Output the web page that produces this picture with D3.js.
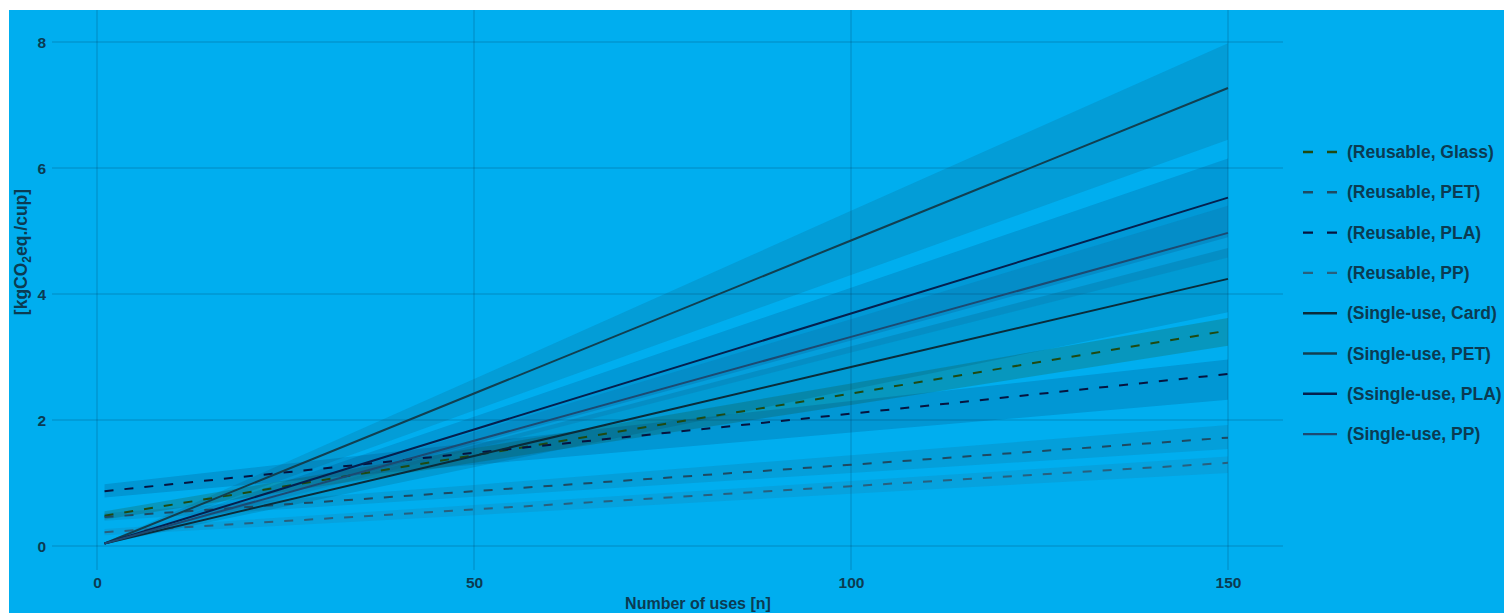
<!DOCTYPE html>
<html>
<head>
<meta charset="utf-8">
<script src="https://cdn.jsdelivr.net/npm/d3@7"></script>
<style>
  html, body { margin: 0; padding: 0; background: #ffffff; }
  svg { display: block; }
  text { font-family: "Liberation Sans", Arial, Helvetica, sans-serif; fill: #0b3b52; }
</style>
</head>
<body>
<svg id="chart" width="1504" height="613"></svg>
<script>
// ---- data ----
const uses = [1, 50, 100, 150];
const seriesNames = [
  "(Reusable, Glass)", "(Reusable, PET)", "(Reusable, PLA)", "(Reusable, PP)",
  "(Single-use, Card)", "(Single-use, PET)", "(Ssingle-use, PLA)", "(Single-use, PP)"
];
const reusableGlass = [0.48, 1.44, 2.42, 3.42];
const reusablePET   = [0.46, 0.87, 1.29, 1.72];
const reusablePLA   = [0.87, 1.48, 2.10, 2.73];
const reusablePP    = [0.22, 0.58, 0.95, 1.32];
const singleCard    = [0.04, 1.43, 2.84, 4.24];
const singlePET     = [0.04, 2.42, 4.85, 7.27];
const singlePLA     = [0.04, 1.85, 3.69, 5.53];
const singlePP      = [0.04, 1.67, 3.32, 4.97];
// confidence bands: lower and upper at each n in `uses`
const reusableGlassLo = [0.42, 1.32, 2.24, 3.18];
const reusableGlassHi = [0.55, 1.55, 2.58, 3.62];
const reusablePETLo   = [0.40, 0.78, 1.16, 1.54];
const reusablePETHi   = [0.52, 0.97, 1.44, 1.92];
const reusablePLALo   = [0.77, 1.29, 1.80, 2.32];
const reusablePLAHi   = [0.98, 1.64, 2.30, 2.96];
const reusablePPLo    = [0.17, 0.49, 0.83, 1.16];
const reusablePPHi    = [0.27, 0.65, 1.03, 1.42];
const singleCardLo    = [0.03, 1.25, 2.48, 3.71];
const singleCardHi    = [0.05, 1.60, 3.17, 4.73];
const singlePETLo     = [0.03, 2.15, 4.30, 6.45];
const singlePETHi     = [0.05, 2.65, 5.32, 7.98];
const singlePLALo     = [0.03, 1.62, 3.26, 4.90];
const singlePLAHi     = [0.05, 2.05, 4.10, 6.15];
const singlePPLo      = [0.03, 1.54, 3.07, 4.58];
const singlePPHi      = [0.05, 1.81, 3.60, 5.40];
const xTicks = [0, 50, 100, 150];
const yTicks = [0, 2, 4, 6, 8];

const seriesValues = [reusableGlass, reusablePET, reusablePLA, reusablePP, singleCard, singlePET, singlePLA, singlePP];
const seriesLo = [reusableGlassLo, reusablePETLo, reusablePLALo, reusablePPLo, singleCardLo, singlePETLo, singlePLALo, singlePPLo];
const seriesHi = [reusableGlassHi, reusablePETHi, reusablePLAHi, reusablePPHi, singleCardHi, singlePETHi, singlePLAHi, singlePPHi];
const colors = ["#1f4a12", "#1e4a62", "#06143f", "#28607e", "#0a2c3a", "#123f50", "#05204e", "#1c4a72"];
const dashed = [true, true, true, true, false, false, false, false];

// ---- drawing ----
const svg = d3.select("#chart");
svg.append("rect").attr("x", 9).attr("y", 10).attr("width", 1504 - 9).attr("height", 613 - 10).attr("fill", "#00aeef");

const x = d3.scaleLinear().domain([0, 150]).range([97, 1228]);
const y = d3.scaleLinear().domain([0, 8]).range([546, 42]);
const panel = { left: 52, right: 1283, top: 10, bottom: 570 };

// gridlines
const grid = svg.append("g");
grid.selectAll("line.h").data(yTicks).join("line")
  .attr("x1", panel.left).attr("x2", panel.right)
  .attr("y1", d => y(d)).attr("y2", d => y(d))
  .attr("stroke", "rgba(0,45,75,0.28)").attr("stroke-width", 1);
grid.selectAll("line.v").data(xTicks).join("line")
  .attr("y1", panel.top).attr("y2", panel.bottom)
  .attr("x1", d => x(d)).attr("x2", d => x(d))
  .attr("stroke", "rgba(0,45,75,0.28)").attr("stroke-width", 1);

// axes (labels only)
const yAxis = svg.append("g").attr("transform", `translate(${panel.left - 2},0)`)
  .call(d3.axisLeft(y).tickValues(yTicks).tickSize(0).tickPadding(4));
yAxis.select(".domain").remove();
yAxis.selectAll("text").attr("font-size", 15.5).style("fill", "#0b3b52").attr("font-weight", "bold").attr("dy", "0.35em");

const xAxis = svg.append("g").attr("transform", `translate(0,${575})`)
  .call(d3.axisBottom(x).tickValues(xTicks).tickSize(0).tickPadding(2));
xAxis.select(".domain").remove();
xAxis.selectAll("text").attr("font-size", 15.5).style("fill", "#0b3b52").attr("font-weight", "bold");

// bands
const area = d3.area().x((d, i) => x(uses[i])).y0((d, i) => y(d[0])).y1((d, i) => y(d[1]));
const bandG = svg.append("g");
seriesValues.forEach((vals, s) => {
  const pts = uses.map((u, i) => [seriesLo[s][i], seriesHi[s][i]]);
  bandG.append("path").datum(pts).attr("d", area)
    .attr("fill", colors[s]).attr("fill-opacity", s === 0 ? 0.22 : 0.15);
});

// lines
const line = d3.line().x((d, i) => x(uses[i])).y(d => y(d));
const lineG = svg.append("g");
seriesValues.forEach((vals, s) => {
  lineG.append("path").datum(vals).attr("d", line)
    .attr("fill", "none").attr("stroke", colors[s]).attr("stroke-width", 2)
    .attr("stroke-dasharray", dashed[s] ? "9,11" : null);
});

// legend
const legend = svg.append("g");
seriesNames.forEach((name, s) => {
  const ly = 152 + s * 40.3;
  legend.append("line").attr("x1", 1303).attr("x2", 1337).attr("y1", ly).attr("y2", ly)
    .attr("stroke", colors[s]).attr("stroke-width", 2.4)
    .attr("stroke-dasharray", dashed[s] ? "10,14" : null);
  legend.append("text").attr("x", 1347).attr("y", ly).attr("dy", "0.35em")
    .attr("font-size", 17.5).attr("font-weight", "bold").text(name);
});

// axis titles
svg.append("text").attr("x", 698).attr("y", 609).attr("text-anchor", "middle")
  .attr("font-size", 16).attr("font-weight", "bold").text("Number of uses [n]");

const yt = svg.append("text").attr("transform", "translate(27,252) rotate(-90)")
  .attr("text-anchor", "middle").attr("font-size", 17.5).attr("font-weight", "bold");
yt.append("tspan").text("[kgCO");
yt.append("tspan").attr("font-size", 12).attr("dy", 4).text("2");
yt.append("tspan").attr("dy", -4).text("eq./cup]");
</script>
</body>
</html>
